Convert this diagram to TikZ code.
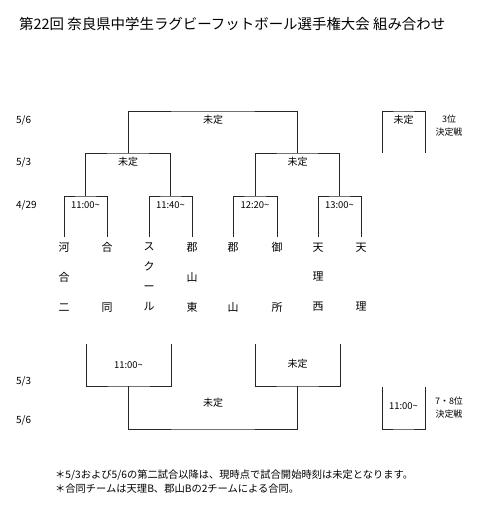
\documentclass[tikz,border=0pt]{standalone}
\usepackage{fontspec}
\setmainfont{Noto Sans CJK JP}
\usetikzlibrary{positioning}

\begin{document}
\begin{tikzpicture}[x=1bp, y=-1bp,
      every node/.style={inner sep=0pt},
      line/.style={draw=black!85, line width=0.9pt},
      day/.style={font=\fontsize{10}{12}\selectfont, anchor=west},
      tbd/.style={font=\fontsize{10}{12}\selectfont},
      time/.style={font=\fontsize{9.5}{11}\selectfont},
      team/.style={anchor=north, align=center, inner ysep=5.5bp},
      team2/.style={team, font=\fontsize{11}{60}\selectfont},
      team3/.style={team, font=\fontsize{11}{30}\selectfont},
      team4/.style={team, font=\fontsize{11}{20}\selectfont},
      place/.style={font=\fontsize{9}{13}\selectfont, align=center},
      footnote/.style={font=\fontsize{10.3}{12}\selectfont, anchor=west}
  ]
    \useasboundingbox (0,0) rectangle (480,508);
    \node[anchor=west, font=\fontsize{14.5}{16}\selectfont] (title) at (19,24)
      {第22回 奈良県中学生ラグビーフットボール選手権大会 組み合わせ};

    \node[day] (d56a) at (16,120) {5/6};
    \node[day] (d53a) at (16,162) {5/3};
    \node[day] (d429) at (16,205) {4/29};
    \node[day] (d53b) at (16,381) {5/3};
    \node[day] (d56b) at (16,420) {5/6};

    \node[team3] (t1) at (64,237) {河\\合\\二};
    \node[team2] (t2) at (107,237) {合\\同};
    \node[team4] (t3) at (149,237) {ス\\ク\\ー\\ル};
    \node[team3] (t4) at (192,237) {郡\\山\\東};
    \node[team2] (t5) at (233,237) {郡\\山};
    \node[team2] (t6) at (277,237) {御\\所};
    \node[team3] (t7) at (318,237) {天\\理\\西};
    \node[team2] (t8) at (361,237) {天\\理};

    \coordinate (m1) at (85.5,196);
    \coordinate (m2) at (170.5,196);
    \coordinate (m3) at (255,196);
    \coordinate (m4) at (339.5,196);
    \coordinate (s1) at (128,153);
    \coordinate (s2) at (297.5,153);
    \coordinate (fin) at (213,111);

    \draw[line] (t1.north) |- (m1) -| (t2.north);
    \draw[line] (t3.north) |- (m2) -| (t4.north);
    \draw[line] (t5.north) |- (m3) -| (t6.north);
    \draw[line] (t7.north) |- (m4) -| (t8.north);
    \draw[line] (m1) |- (s1) -| (m2);
    \draw[line] (m3) |- (s2) -| (m4);
    \draw[line] (s1) |- (fin) -| (s2);

    \node[time, below=5bp of m1] (h1) {11:00\textasciitilde};
    \node[time, below=5bp of m2] (h2) {11:40\textasciitilde};
    \node[time, below=5bp of m3] (h3) {12:20\textasciitilde};
    \node[time, below=5bp of m4] (h4) {13:00\textasciitilde};
    \node[tbd, below=4bp of s1] (u1) {未定};
    \node[tbd, below=4bp of s2] (u2) {未定};
    \node[tbd, below=4bp of fin] (u3) {未定};

    \coordinate (q1) at (382,153);
    \coordinate (q2) at (425,153);
    \coordinate (p3) at (403.5,111);
    \draw[line] (q1) |- (p3) -| (q2);
    \node[tbd, below=4bp of p3] (u4) {未定};
    \node[place] (third) at (449,126) {3位\\決定戦};

    \coordinate (b1) at (86,344);
    \coordinate (b2) at (171,344);
    \coordinate (b3) at (255,344);
    \coordinate (b4) at (340,344);
    \coordinate (c1) at (128.5,386);
    \coordinate (c2) at (297.5,386);
    \coordinate (c3) at (213,429);
    \draw[line] (b1) |- (c1) -| (b2);
    \draw[line] (b3) |- (c2) -| (b4);
    \draw[line] (c1) |- (c3) -| (c2);
    \node[time, above=17bp of c1] (h5) {11:00\textasciitilde};
    \node[tbd, above=17bp of c2] (u5) {未定};
    \node[tbd, above=21bp of c3] (u6) {未定};

    \coordinate (r1) at (382,387);
    \coordinate (r2) at (425,387);
    \coordinate (p7) at (403.5,429);
    \draw[line] (r1) |- (p7) -| (r2);
    \node[time, above=19bp of p7] (h6) {11:00\textasciitilde};
    \node[place] (seventh) at (449,408) {7・8位\\決定戦};

    \node[footnote] (n1) at (55,475)
      {＊5/3および5/6の第二試合以降は、現時点で試合開始時刻は未定となります。};
    \node[footnote] (n2) at (55,489)
      {＊合同チームは天理B、郡山Bの2チームによる合同。};
  \end{tikzpicture}
\end{document}
